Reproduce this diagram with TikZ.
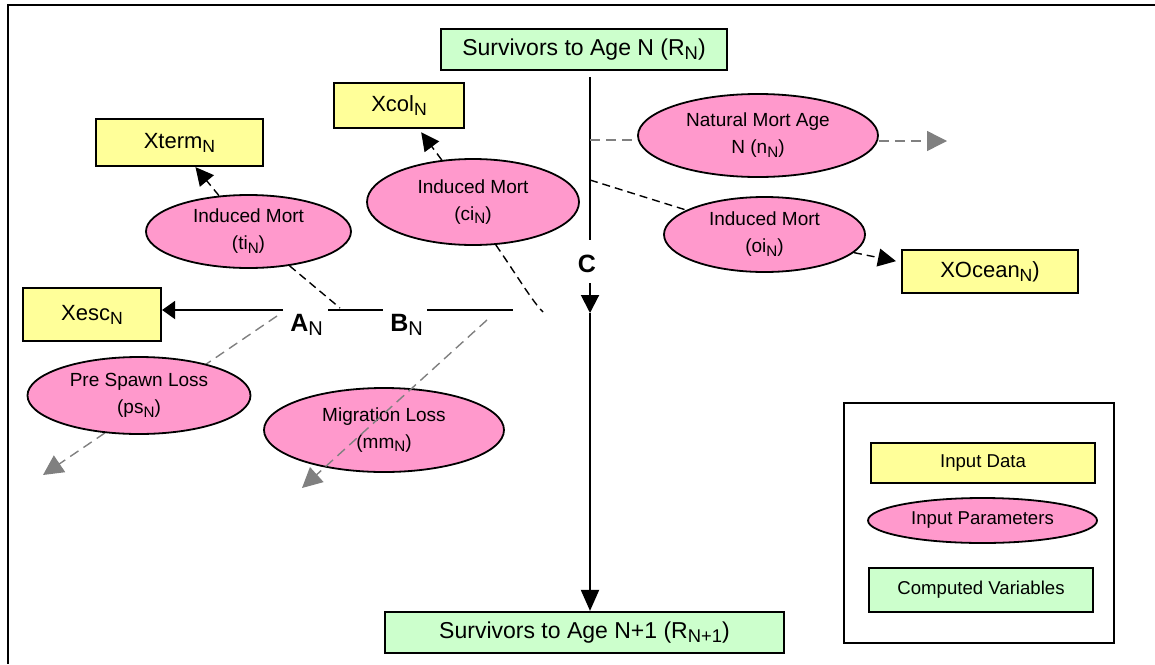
\documentclass[tikz,border=0pt]{standalone}
\usepackage{fontspec}
\setmainfont{Liberation Sans}
\usepackage{graphicx}
\usepackage{tikz}
\usetikzlibrary{arrows.meta,shapes.geometric}

\definecolor{datayellow}{HTML}{FFFF99}
\definecolor{parpink}{HTML}{FF99CC}
\definecolor{compgreen}{HTML}{CCFFCC}
\newcommand{\lsub}[1]{\raisebox{-0.35ex}{\scalebox{0.8}{#1}}}

\begin{document}
\begin{tikzpicture}[>={Triangle[length=9pt,width=9pt]},x=0.5pt,y=-0.5pt,
  datanode/.style={draw,line width=1.1pt,fill=datayellow,inner sep=0pt,font=\fontsize{11}{13}\selectfont},
  compnode/.style={draw,line width=1.1pt,fill=compgreen,inner sep=0pt,font=\fontsize{11.5}{13}\selectfont},
  parnode/.style={ellipse,draw,line width=0.9pt,fill=parpink,inner sep=0pt,align=center,font=\fontsize{9.5}{13.5}\selectfont},
  lbl/.style={inner sep=0pt,font=\fontsize{12.5}{14}\bfseries\selectfont},
  flow/.style={line width=1pt},
  lossdash/.style={dash pattern=on 4pt off 2.5pt,line width=0.7pt},
  greyline/.style={gray,dash pattern=on 5pt off 3pt,line width=0.7pt},
  greyarrow/.style={greyline,-{Triangle[length=10pt,width=10pt]}}]

\useasboundingbox (0,0) rectangle (1155,664);
\draw[line width=1pt] (1155,5) -- (8,5) -- (8,664);

% loss that runs behind the ellipse
\coordinate (psin) at (277,316);
\coordinate (psout) at (43,475);
\draw[greyarrow] (psin) -- (psout);

\node[compnode,minimum width=143pt,minimum height=20.5pt] (surv) at (584,49.5) {Survivors to Age N (R\lsub{N})};
\node[compnode,minimum width=199.5pt,minimum height=20.5pt] (survnext) at (584.5,632.5) {Survivors to Age N+1 (R\lsub{N+1})};

\node[datanode,minimum width=65pt,minimum height=22.5pt] (xcol) at (399,105.5) {Xcol\lsub{N}};
\node[datanode,minimum width=83.5pt,minimum height=23.5pt] (xterm) at (179.5,142.5) {Xterm\lsub{N}};
\node[datanode,minimum width=69pt,minimum height=26.5pt] (xesc) at (92,314.5) {Xesc\lsub{N}};
\node[datanode,minimum width=88pt,minimum height=21.5pt] (xocean) at (990,271.5) {XOcean\lsub{N})};

\node[parnode,minimum width=102.5pt,minimum height=36.5pt] (ti) at (248.5,231.5) {Induced Mort\\(ti\lsub{N})};
\node[parnode,minimum width=106pt,minimum height=43pt] (ci) at (473,202) {Induced Mort\\(ci\lsub{N})};
\node[parnode,minimum width=120pt,minimum height=41.5pt] (nat) at (758,135.5) {Natural Mort Age\\N (n\lsub{N})};
\node[parnode,minimum width=100.5pt,minimum height=37.5pt] (oi) at (764.5,234.5) {Induced Mort\\(oi\lsub{N})};
\node[parnode,minimum width=111.5pt,minimum height=38.5pt] (ps) at (139,395.5) {Pre Spawn Loss\\(ps\lsub{N})};
\node[parnode,minimum width=120pt,minimum height=42pt] (mm) at (384,430) {Migration Loss\\(mm\lsub{N})};

\node[lbl,anchor=base west] (an) at (290,331) {A\lsub{\mdseries N}};
\node[lbl,anchor=base west] (bn) at (390,331) {B\lsub{\mdseries N}};
\node[lbl,anchor=base] (c) at (587,272) {C};

% main stem
\coordinate (v0) at (590,77);
\coordinate (v1) at (590,240);
\coordinate (v2) at (590,283);
\coordinate (v3) at (590,313);
\draw[flow] (v0) -- (v1);
\draw[flow,->] (v2) -- (v3);
\draw[flow,-{Triangle[length=10.5pt,width=9pt]}] (v3) -- (survnext.north -| v3);

% escapement branch
\coordinate (aleft) at (283,310);
\coordinate (ab1) at (328,310);
\coordinate (ab2) at (383,310);
\coordinate (bc1) at (427,310);
\coordinate (bc2) at (513,310);
\draw[flow,-{Triangle[length=6.5pt,width=9pt]}] (aleft) -- (xesc.east |- aleft);
\draw[flow] (ab1) -- (ab2);
\draw[flow] (bc1) -- (bc2);

% induced mortalities
\coordinate (tiend) at (340,308);
\coordinate (ciend) at (543,312);
\draw[lossdash] (ti) -- (tiend);
\draw[lossdash,->] (ti) -- (xterm.-57);
\draw[lossdash] (ci.-62) .. controls (516,274) and (532,301) .. (ciend);
\draw[lossdash,->,shorten >=2pt] (ci) -- (xcol.-50);

\coordinate (vo) at (590,180);
\draw[lossdash] (vo) -- (oi);
\draw[lossdash,->,shorten >=2.5pt] (oi) -- (xocean.174);

% natural mortality
\coordinate (vn) at (590,140);
\coordinate (natout) at (947,141);
\draw[greyline] (vn) -- (nat.west |- vn);
\draw[greyarrow] (nat.east |- natout) -- (natout);

% migration loss
\coordinate (mmin) at (487,320);
\coordinate (mmout) at (302,488);
\draw[greyarrow] (mmin) -- (mmout);

% key
\node[draw,line width=1pt,minimum width=135pt,minimum height=120pt] (legend) at (979,523) {};
\node[datanode,minimum width=112pt,minimum height=20pt,font=\fontsize{9.3}{11}\selectfont] (legdata) at (983,463) {Input Data};
\node[parnode,minimum width=114.5pt,minimum height=22.5pt,font=\fontsize{9.3}{11}\selectfont] (legpar) at (982.5,520.5) {Input Parameters};
\node[compnode,minimum width=112pt,minimum height=22pt,font=\fontsize{9.3}{11}\selectfont] (legcomp) at (981,590) {Computed Variables};

\end{tikzpicture}
\end{document}
